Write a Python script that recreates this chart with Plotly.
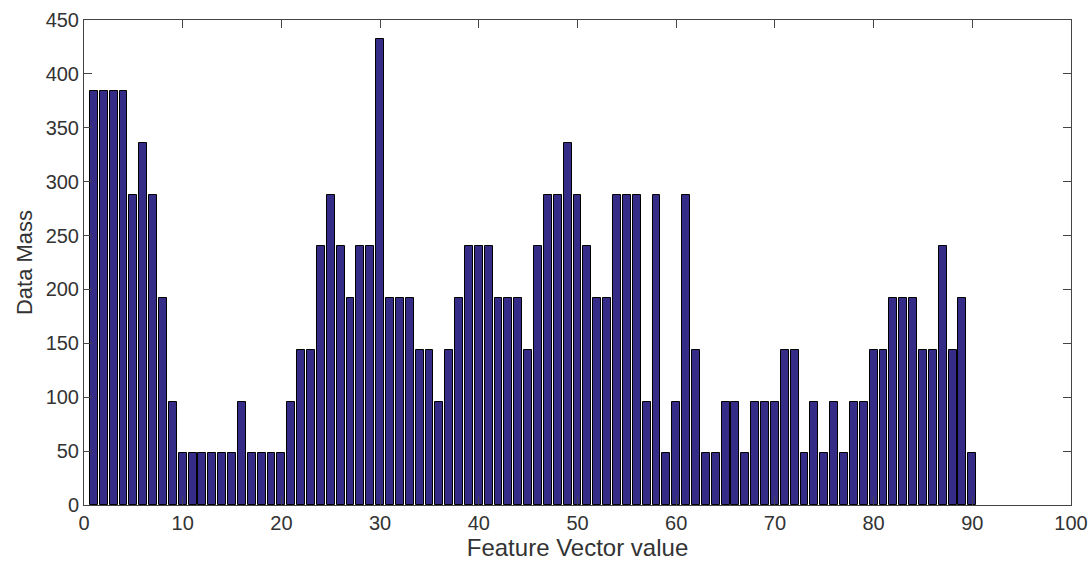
import plotly.graph_objects as go

feature_values = list(range(1, 91))
data_mass = [
    384, 384, 384, 384, 288, 336, 288, 192, 96, 48,
    48, 48, 48, 48, 48, 96, 48, 48, 48, 48,
    96, 144, 144, 240, 288, 240, 192, 240, 240, 432,
    192, 192, 192, 144, 144, 96, 144, 192, 240, 240,
    240, 192, 192, 192, 144, 240, 288, 288, 336, 288,
    240, 192, 192, 288, 288, 288, 96, 288, 48, 96,
    288, 144, 48, 48, 96, 96, 48, 96, 96, 96,
    144, 144, 48, 96, 48, 96, 48, 96, 96, 144,
    144, 192, 192, 192, 144, 144, 240, 144, 192, 48,
]
x_ticks = list(range(0, 101, 10))
y_ticks = list(range(0, 451, 50))

FONT = "Liberation Sans, Arial, sans-serif"

fig = go.Figure()
fig.add_trace(go.Bar(
    x=feature_values, y=data_mass, width=0.8,
    marker=dict(color="#342c86", line=dict(color="black", width=1)),
))

axis_common = dict(
    showgrid=False, zeroline=False, showline=True, linecolor="#444444", linewidth=1,
    mirror="allticks", ticks="inside", ticklen=8, tickcolor="#444444", automargin=False,
    tickfont=dict(family=FONT, size=20, color="#333333"),
)
fig.update_layout(
    width=1091, height=561,
    margin=dict(l=84, r=20, t=20, b=56),
    plot_bgcolor="white", paper_bgcolor="white",
    showlegend=False, bargap=0,
    xaxis=dict(range=[0, 100], tickvals=x_ticks, **axis_common,
               title=dict(text="Feature Vector value", standoff=4,
                          font=dict(family=FONT, size=24, color="#333333"))),
    yaxis=dict(range=[0, 450], tickvals=y_ticks, **axis_common,
               title=dict(text="Data Mass", standoff=6,
                          font=dict(family=FONT, size=22, color="#333333"))),
)
fig.write_html("out.html")
